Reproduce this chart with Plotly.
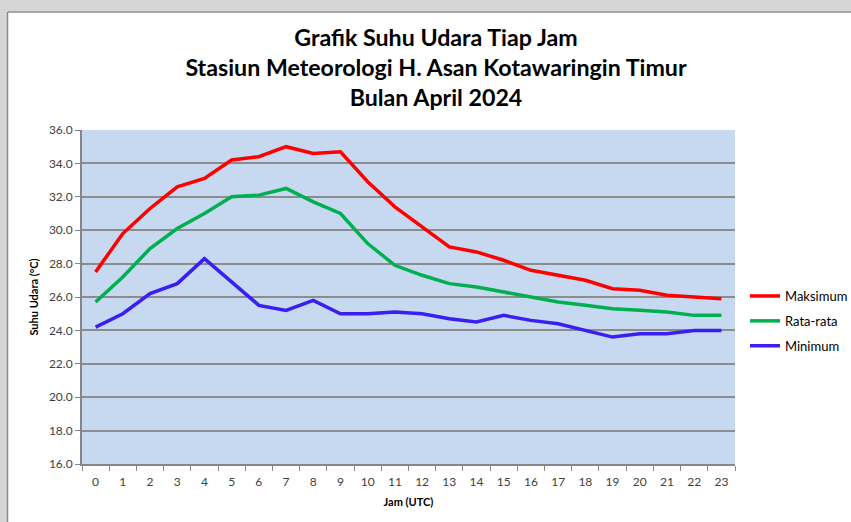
import plotly.graph_objects as go

hours = [str(h) for h in range(24)]
maksimum = [27.5, 29.8, 31.3, 32.6, 33.1, 34.2, 34.4, 35.0, 34.6, 34.7, 32.9, 31.4,
            30.2, 29.0, 28.7, 28.2, 27.6, 27.3, 27.0, 26.5, 26.4, 26.1, 26.0, 25.9]
rata_rata = [25.7, 27.2, 28.9, 30.1, 31.0, 32.0, 32.1, 32.5, 31.7, 31.0, 29.2, 27.9,
             27.3, 26.8, 26.6, 26.3, 26.0, 25.7, 25.5, 25.3, 25.2, 25.1, 24.9, 24.9]
minimum = [24.2, 25.0, 26.2, 26.8, 28.3, 26.9, 25.5, 25.2, 25.8, 25.0, 25.0, 25.1,
           25.0, 24.7, 24.5, 24.9, 24.6, 24.4, 24.0, 23.6, 23.8, 23.8, 24.0, 24.0]
y_ticks = [16 + 2 * i for i in range(11)]

W, H = 851, 522
L, R, T, B = 82, 116, 130, 58
PW, PH = W - L - R, H - T - B

def px(x):
    return (x - L) / PW

def py(y):
    return (H - B - y) / PH

fig = go.Figure()
series = [("Maksimum", maksimum, "#FF0000"),
          ("Rata-rata", rata_rata, "#00B050"),
          ("Minimum", minimum, "#3A1EF2")]
for name, vals, col in series:
    fig.add_trace(go.Scatter(x=hours, y=vals, mode="lines", name=name,
                             legendgroup=name,
                             line=dict(color=col, width=3.5)))

shapes = [
    dict(type="rect", xref="paper", yref="paper", x0=px(0), x1=px(W), y0=py(0), y1=py(11),
         fillcolor="#D6D6D6", line=dict(width=0), layer="below"),
    dict(type="rect", xref="paper", yref="paper", x0=px(0), x1=px(7), y0=py(0), y1=py(H),
         fillcolor="#D6D6D6", line=dict(width=0), layer="below"),
    dict(type="line", xref="paper", yref="paper", x0=px(7.5), x1=px(W), y0=py(12), y1=py(12),
         line=dict(color="#8A8A8A", width=1.5)),
    dict(type="line", xref="paper", yref="paper", x0=px(7.5), x1=px(7.5), y0=py(12), y1=py(H),
         line=dict(color="#8A8A8A", width=1.5)),
]

fig.update_layout(
    width=W, height=H,
    margin=dict(l=L, r=R, t=T, b=B, autoexpand=False),
    paper_bgcolor="white",
    plot_bgcolor="#C6D9F0",
    font=dict(family="Lato", color="#404040", size=12),
    title=dict(
        text="<b>Grafik Suhu Udara Tiap Jam<br>Stasiun Meteorologi H. Asan Kotawaringin Timur<br>Bulan April 2024</b>",
        x=436 / W, xref="container", xanchor="center", y=1 - 46 / H, yanchor="top",
        yref="container",
        font=dict(family="Lato", size=23.2, color="black"),
    ),
    xaxis=dict(
        type="category", range=[-0.5, 23.5], tickson="boundaries", ticks="outside", ticklen=5,
        tickcolor="#868686", showline=True, linecolor="#868686", linewidth=2,
        showgrid=False, tickfont=dict(size=12, color="#404040"), ticklabelstandoff=6,
        automargin=False,
        title=dict(text="<b>Jam (UTC)</b>", font=dict(size=11, color="black"), standoff=10),
    ),
    yaxis=dict(
        range=[16, 36], tickvals=y_ticks, tickformat=".1f", ticks="outside", ticklen=5,
        tickcolor="#868686", showline=True, linecolor="#868686", linewidth=2,
        gridcolor="#8C8C8C", gridwidth=1.5, zeroline=False,
        tickfont=dict(size=12, color="#404040"), automargin=False,
        title=dict(text="<b>Suhu Udara (°C)</b>", font=dict(size=11, color="black"), standoff=8),
    ),
    legend=dict(x=px(745), xanchor="left", y=py(281), yanchor="top",
                font=dict(size=13, color="black"), tracegroupgap=5,
                bgcolor="rgba(0,0,0,0)", itemwidth=30),
    shapes=shapes,
    showlegend=True,
)

fig.write_html("out.html", config={"displayModeBar": False},
               post_script="document.body.style.margin='0px';")
